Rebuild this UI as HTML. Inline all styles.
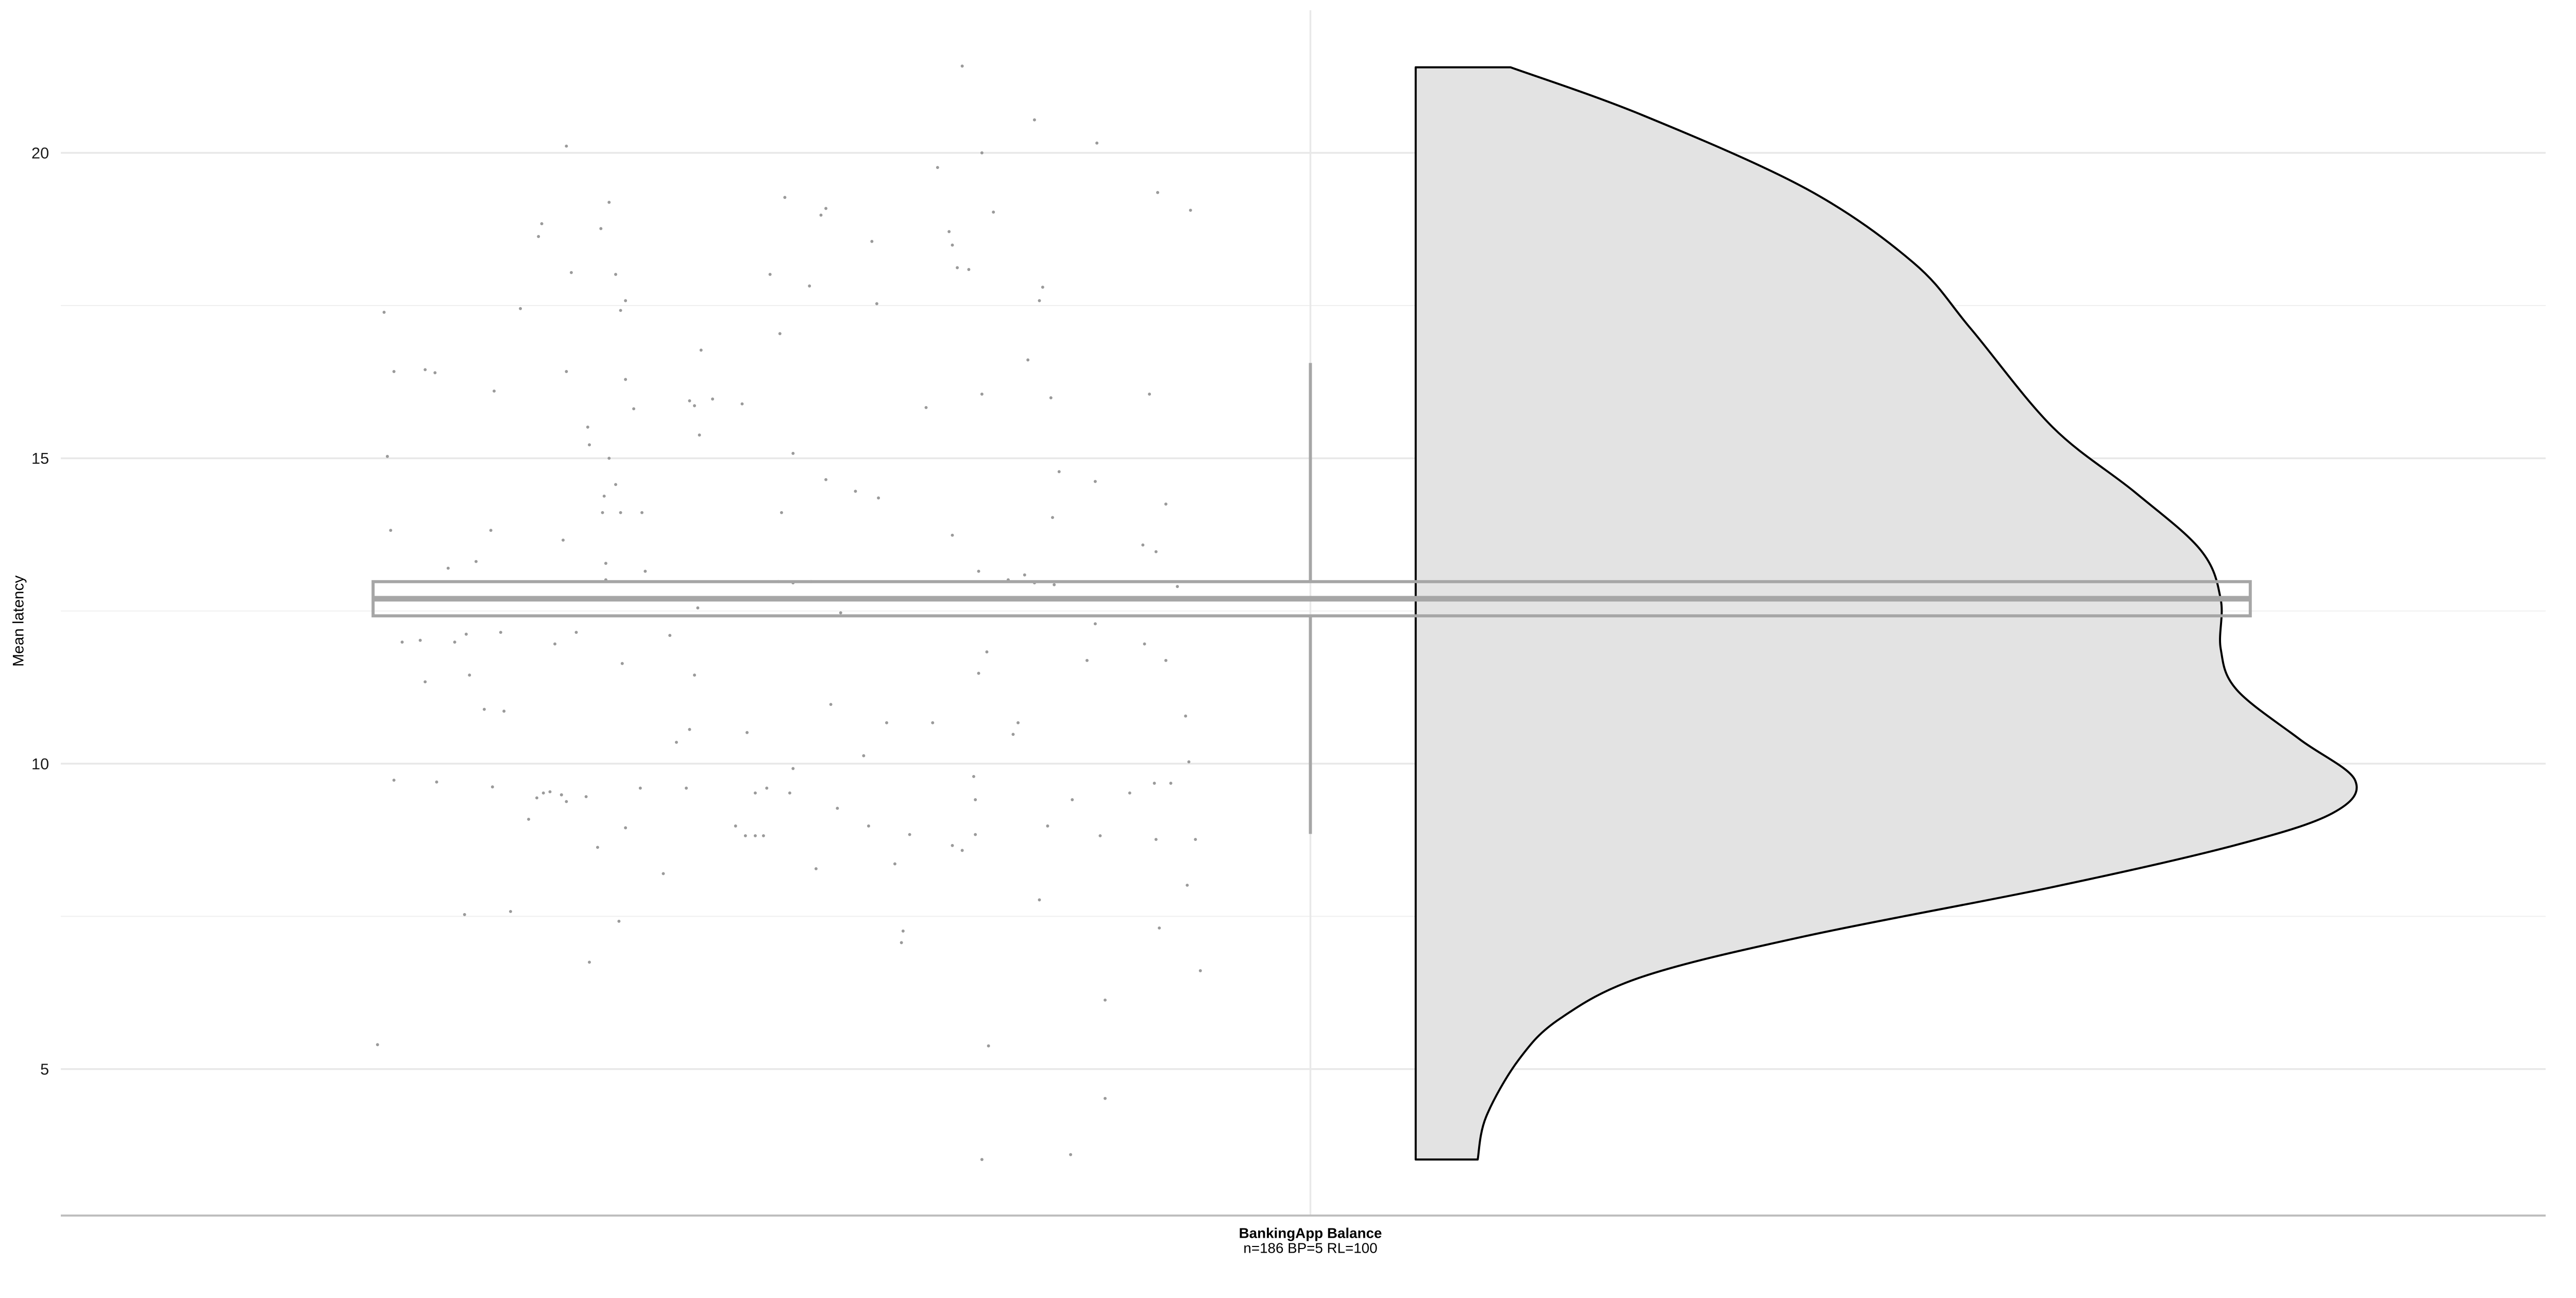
<!DOCTYPE html>
<html><head><meta charset="utf-8"><style>
html,body{margin:0;padding:0;background:#fff;}
svg{display:block;font-family:"Liberation Sans",Arial,sans-serif;}
</style></head><body>
<svg id="chart" width="5039" height="2519" viewBox="0 0 5039 2519" xmlns="http://www.w3.org/2000/svg">
<g transform="scale(0.992)">
<g id="grid"></g>
<g id="violin"></g>
<g id="points"></g>
<g id="box"></g>
<g id="axes"></g>
</g>
</svg>
<script>
const yTicks=[5,10,15,20];
const yMinor=[7.5,12.5,17.5];
const category="BankingApp Balance";
const categorySub="n=186 BP=5 RL=100";
const boxQ1=12.42, boxMedian=12.7, boxQ3=12.98, whiskerLow=8.85, whiskerHigh=16.56;
const violinY=[21.40,20.62,19.41,18.20,17.12,15.51,14.44,13.49,12.69,11.88,11.21,10.40,9.73,9.19,8.66,7.98,7.18,6.51,5.83,5.16,4.22,3.52];
const violinDens=[0.101,0.241,0.416,0.530,0.591,0.678,0.766,0.836,0.857,0.857,0.874,0.941,1.0,0.976,0.871,0.678,0.416,0.241,0.154,0.110,0.075,0.066];
const pointValues=[21.42,20.54,20.16,20.11,20.0,19.76,19.35,19.06,19.19,19.03,18.71,18.84,18.63,18.76,19.27,19.09,18.98,18.55,18.49,18.12,18.09,18.04,18.01,18.01,17.82,17.80,17.58,17.58,17.42,17.53,17.45,17.39,17.04,16.77,16.61,16.42,16.45,16.40,16.42,16.29,16.10,15.94,15.86,15.97,15.89,15.83,16.05,15.99,16.05,15.81,15.51,15.22,15.38,15.00,15.08,15.03,14.57,14.65,14.46,14.35,14.62,14.78,14.25,14.38,14.11,14.11,14.11,14.11,14.03,13.82,13.82,13.66,13.74,13.58,13.47,13.20,13.31,13.28,13.15,13.01,13.15,13.09,13.01,12.96,12.98,12.96,12.98,12.93,12.90,12.55,12.47,12.29,11.99,12.02,12.12,11.99,12.15,12.15,12.10,11.96,11.96,11.83,11.64,11.48,11.69,11.69,11.34,11.45,11.45,10.89,10.86,10.97,10.67,10.67,10.67,10.48,10.51,10.56,10.35,10.13,10.78,10.03,9.73,9.70,9.62,9.54,9.44,9.49,9.38,9.52,9.46,9.49,9.60,9.60,9.60,9.92,9.52,9.52,9.79,9.41,9.41,9.52,9.68,9.68,8.95,8.98,8.82,8.82,8.82,9.27,8.98,8.84,8.66,8.58,8.84,8.98,8.82,8.76,8.76,8.63,9.09,8.20,8.28,8.36,8.01,7.77,7.53,7.58,7.42,7.26,7.07,7.31,6.75,6.61,6.13,5.40,5.38,4.52,3.52,3.60];
const pointJitter=[-.212,-.168,-.130,-.453,-.200,-.227,-.093,-.073,-.427,-.193,-.220,-.468,-.470,-.432,-.320,-.295,-.298,-.267,-.218,-.215,-.208,-.450,-.423,-.329,-.305,-.163,-.165,-.417,-.420,-.264,-.481,-.564,-.323,-.371,-.172,-.558,-.539,-.533,-.453,-.417,-.497,-.378,-.375,-.364,-.346,-.234,-.200,-.158,-.098,-.412,-.440,-.439,-.372,-.427,-.315,-.562,-.423,-.295,-.277,-.263,-.131,-.153,-.088,-.430,-.322,-.431,-.420,-.407,-.157,-.499,-.560,-.455,-.218,-.102,-.094,-.525,-.508,-.429,-.405,-.429,-.202,-.174,-.184,-.168,-.324,-.315,-.304,-.156,-.081,-.373,-.286,-.131,-.553,-.542,-.514,-.521,-.493,-.447,-.390,-.460,-.101,-.197,-.419,-.202,-.136,-.088,-.539,-.512,-.375,-.503,-.491,-.292,-.258,-.230,-.178,-.181,-.343,-.378,-.386,-.272,-.076,-.074,-.558,-.532,-.498,-.463,-.471,-.456,-.453,-.467,-.441,-.456,-.408,-.380,-.331,-.315,-.317,-.338,-.205,-.204,-.145,-.110,-.095,-.085,-.417,-.350,-.344,-.338,-.333,-.288,-.269,-.244,-.218,-.212,-.204,-.160,-.128,-.094,-.070,-.434,-.476,-.394,-.301,-.253,-.075,-.165,-.515,-.487,-.421,-.248,-.249,-.092,-.439,-.067,-.125,-.568,-.196,-.125,-.200,-.146];

const NS="http://www.w3.org/2000/svg";
const plotL=119, plotR=4981, axisY=2378, cx=2564;
function y(v){return 299+(20-v)*119.5;}
function jx(j){return cx+j*3213.6;}
const violinBase=2770, violinScale=1838;
function vx(d){return violinBase+d*violinScale;}
function mk(tag,attrs,parent){const e=document.createElementNS(NS,tag);for(const k in attrs)e.setAttribute(k,attrs[k]);parent.appendChild(e);return e;}
const grid=document.getElementById('grid'),violin=document.getElementById('violin'),pts=document.getElementById('points'),box=document.getElementById('box'),axes=document.getElementById('axes');

yMinor.forEach(v=>{const l=mk('line',{x1:plotL,x2:plotR,y1:y(v),y2:y(v),stroke:'#efefef','stroke-width':2},grid);

});
yTicks.forEach(v=>{const l=mk('line',{x1:plotL,x2:plotR,y1:y(v),y2:y(v),stroke:'#e8e8e8','stroke-width':3.5},grid);


const t=mk('text',{x:96,y:y(v)+11,'text-anchor':'end','font-size':31,fill:'#1a1a1a'},axes);t.textContent=v;

});
const vg=mk('line',{x1:cx,x2:cx,y1:20,y2:axisY,stroke:'#e8e8e8','stroke-width':3.5},grid);



const P=violinY.map((v,i)=>[vx(violinDens[i]),y(v)]);
let d=`M${violinBase},${P[0][1]} L${P[0][0]},${P[0][1]}`;
for(let i=0;i<P.length-1;i++){const p0=P[Math.max(0,i-1)],p1=P[i],p2=P[i+1],p3=P[Math.min(P.length-1,i+2)];
const c1=[p1[0]+(p2[0]-p0[0])/6,p1[1]+(p2[1]-p0[1])/6],c2=[p2[0]-(p3[0]-p1[0])/6,p2[1]-(p3[1]-p1[1])/6];
d+=` C${c1[0]},${c1[1]} ${c2[0]},${c2[1]} ${p2[0]},${p2[1]}`;}
d+=` L${violinBase},${P[P.length-1][1]} Z`;
const vp=mk('path',{d:d,fill:'#e3e3e3',stroke:'#000','stroke-width':4,'stroke-linejoin':'round'},violin);



pointValues.forEach((v,i)=>{const c=mk('circle',{cx:jx(pointJitter[i]),cy:y(v),r:3,fill:'#9a9a9a'},pts);

});

const boxL=730, boxR=4403;
const w1=mk('line',{x1:cx,x2:cx,y1:y(whiskerHigh),y2:y(boxQ3),stroke:'#a6a6a6','stroke-width':6},box);


const w2=mk('line',{x1:cx,x2:cx,y1:y(boxQ1),y2:y(whiskerLow),stroke:'#a6a6a6','stroke-width':6},box);


const br=mk('rect',{x:boxL,y:y(boxQ3),width:boxR-boxL,height:y(boxQ1)-y(boxQ3),fill:'none',stroke:'#a6a6a6','stroke-width':6},box);


const md=mk('line',{x1:boxL,x2:boxR,y1:y(boxMedian),y2:y(boxMedian),stroke:'#a6a6a6','stroke-width':11},box);



const ax=mk('line',{x1:plotL,x2:plotR,y1:axisY,y2:axisY,stroke:'#bebebe','stroke-width':4},axes);


const t1=mk('text',{x:cx,y:2422,'text-anchor':'middle','font-size':28,'font-weight':'bold',fill:'#000'},axes);t1.textContent=category;


const t2=mk('text',{x:cx,y:2451,'text-anchor':'middle','font-size':28,fill:'#000'},axes);t2.textContent=categorySub;


const yt=mk('text',{x:0,y:0,transform:'translate(46,1215) rotate(-90)','text-anchor':'middle','font-size':30,fill:'#000'},axes);yt.textContent='Mean latency';


</script>
</body></html>
